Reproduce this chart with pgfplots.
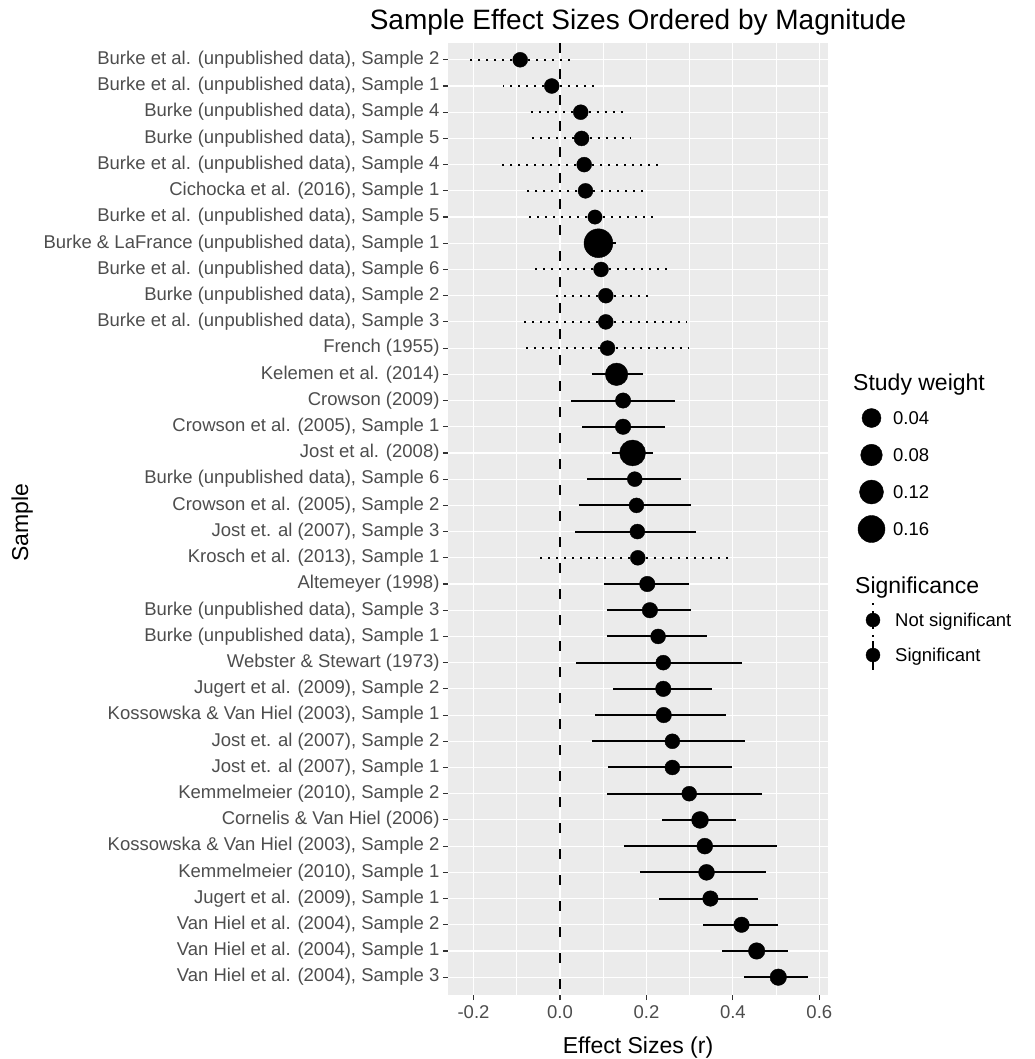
\documentclass[border=0pt]{standalone}
\usepackage{pgfplots}
\pgfplotsset{compat=1.18}
\usepackage{pgfplotstable}
\usepackage{fontspec}
\setmainfont{Liberation Sans}

\definecolor{panelgrey}{HTML}{EBEBEB}
\definecolor{grey30}{HTML}{4D4D4D}
\definecolor{grey20}{HTML}{333333}

% row = position from the top, est = effect size, lo/hi = interval, rad = point radius (bp)
\pgfplotstableread{
row est lo hi rad
8 0.089 0.058 0.129 14.5
13 0.131 0.073 0.193 11.3
14 0.146 0.025 0.266 7.7
15 0.146 0.050 0.243 7.8
16 0.168 0.121 0.216 13.0
17 0.173 0.063 0.279 7.5
18 0.177 0.045 0.302 7.5
19 0.179 0.035 0.314 7.5
21 0.202 0.103 0.299 7.8
22 0.208 0.109 0.304 7.8
23 0.227 0.108 0.339 7.5
24 0.239 0.038 0.420 7.5
25 0.239 0.122 0.351 7.8
26 0.240 0.081 0.385 7.8
27 0.260 0.075 0.428 7.5
28 0.260 0.110 0.397 7.5
29 0.299 0.108 0.468 7.5
30 0.324 0.235 0.407 8.5
31 0.335 0.148 0.501 8.0
32 0.339 0.185 0.476 8.0
33 0.348 0.229 0.459 7.8
34 0.420 0.330 0.505 7.8
35 0.455 0.374 0.528 8.3
36 0.505 0.425 0.574 8.3
}\sigtab

\pgfplotstableread{
row est lo hi rad
1 -0.092 -0.220 0.035 7.5
2 -0.019 -0.131 0.085 7.5
3 0.048 -0.068 0.150 7.5
4 0.050 -0.077 0.163 7.5
5 0.056 -0.143 0.239 7.5
6 0.059 -0.083 0.194 7.5
7 0.081 -0.076 0.222 7.2
9 0.095 -0.068 0.253 7.5
10 0.106 -0.015 0.216 7.5
11 0.106 -0.089 0.293 7.5
12 0.110 -0.089 0.297 7.5
20 0.180 -0.055 0.393 7.5
}\nstab

% distances from the estimate to the interval ends
\pgfplotstablecreatecol[create col/expr={\thisrow{hi}-\thisrow{est}}]{ep}\sigtab
\pgfplotstablecreatecol[create col/expr={\thisrow{est}-\thisrow{lo}}]{em}\sigtab
\pgfplotstablecreatecol[create col/expr={\thisrow{hi}-\thisrow{est}}]{ep}\nstab
\pgfplotstablecreatecol[create col/expr={\thisrow{est}-\thisrow{lo}}]{em}\nstab

\pgfplotsset{
  forest/.style={
    scatter, only marks, mark=*,
    scatter/use mapped color={draw=black, fill=black},
    visualization depends on={\thisrow{rad} \as \perpointmarksize},
    scatter/@pre marker code/.append style={/tikz/mark size=\perpointmarksize},
  },
}

\newcommand{\ticksize}{\fontsize{18.5bp}{22bp}\selectfont}
\newcommand{\titlesize}{\fontsize{23bp}{26bp}\selectfont}

\begin{document}
\begin{tikzpicture}
\path[use as bounding box] (0,0) rectangle (1035bp,1059bp);

\begin{axis}[
  at={(448bp,64bp)}, anchor=south west,
  scale only axis, width=380bp, height=952bp,
  xmin=-0.259, xmax=0.620,
  ymin=0.36, ymax=36.68, y dir=reverse,
  clip=false,
  axis background/.style={fill=panelgrey},
  axis line style={draw=none},
  tick align=outside, xtick pos=bottom, ytick pos=left,
  major tick length=5bp, minor tick length=0pt,
  tick style={grey20, line width=1.1bp},
  xtick={-0.2,0,0.2,0.4,0.6},
  xticklabels={-0.2,0.0,0.2,0.4,0.6},
  minor xtick={-0.1,0.1,0.3,0.5},
  ytick={1,...,36},
  yticklabels={
    {Burke et al. (unpublished data), Sample 2},
    {Burke et al. (unpublished data), Sample 1},
    {Burke (unpublished data), Sample 4},
    {Burke (unpublished data), Sample 5},
    {Burke et al. (unpublished data), Sample 4},
    {Cichocka et al. (2016), Sample 1},
    {Burke et al. (unpublished data), Sample 5},
    {Burke \& LaFrance (unpublished data), Sample 1},
    {Burke et al. (unpublished data), Sample 6},
    {Burke (unpublished data), Sample 2},
    {Burke et al. (unpublished data), Sample 3},
    {French (1955)},
    {Kelemen et al. (2014)},
    {Crowson (2009)},
    {Crowson et al. (2005), Sample 1},
    {Jost et al. (2008)},
    {Burke (unpublished data), Sample 6},
    {Crowson et al. (2005), Sample 2},
    {Jost et. al (2007), Sample 3},
    {Krosch et al. (2013), Sample 1},
    {Altemeyer (1998)},
    {Burke (unpublished data), Sample 3},
    {Burke (unpublished data), Sample 1},
    {Webster \& Stewart (1973)},
    {Jugert et al. (2009), Sample 2},
    {Kossowska \& Van Hiel (2003), Sample 1},
    {Jost et. al (2007), Sample 2},
    {Jost et. al (2007), Sample 1},
    {Kemmelmeier (2010), Sample 2},
    {Cornelis \& Van Hiel (2006)},
    {Kossowska \& Van Hiel (2003), Sample 2},
    {Kemmelmeier (2010), Sample 1},
    {Jugert et al. (2009), Sample 1},
    {Van Hiel et al. (2004), Sample 2},
    {Van Hiel et al. (2004), Sample 1},
    {Van Hiel et al. (2004), Sample 3},
  },
  xticklabel style={font=\ticksize, text=grey30, yshift=-2bp},
  yticklabel style={font=\ticksize, text=grey30},
  xmajorgrids, xminorgrids, ymajorgrids,
  major grid style={white, line width=1.1bp},
  minor grid style={white, line width=0.55bp},
]
\addplot[black, line width=1.8bp, dash pattern=on 10bp off 16bp]
  coordinates {(0,0.36) (0,36.68)};

\addplot[forest,
  error bars/.cd, x dir=both, x explicit, error mark=none,
  error bar style={black, line width=2bp, dash pattern=on 2bp off 6bp}]
  table[x=est, y=row, x error plus=ep, x error minus=em] {\nstab};

\addplot[forest,
  error bars/.cd, x dir=both, x explicit, error mark=none,
  error bar style={black, line width=2bp}]
  table[x=est, y=row, x error plus=ep, x error minus=em] {\sigtab};
\end{axis}

% overlay in pixel units for titles and legends
\begin{axis}[
  at={(0,0)}, anchor=south west,
  scale only axis, width=1035bp, height=1059bp,
  xmin=0, xmax=1035, ymin=0, ymax=1059, y dir=reverse,
  hide axis, clip=false,
]
\node[font=\fontsize{28bp}{30bp}\selectfont, anchor=base] at (axis cs:638,30) {Sample Effect Sizes Ordered by Magnitude};
\node[font=\titlesize, anchor=base] at (axis cs:638,1053) {Effect Sizes (r)};
\node[font=\titlesize, anchor=base, rotate=90] at (axis cs:28,523) {Sample};

\node[font=\titlesize, anchor=base west, inner sep=0pt] at (axis cs:853,390) {Study weight};
\addplot[only marks, mark=*, mark size=9.5bp, black] coordinates {(871.5,418)};
\addplot[only marks, mark=*, mark size=10.8bp, black] coordinates {(871.5,455)};
\addplot[only marks, mark=*, mark size=12bp, black] coordinates {(871.5,492)};
\addplot[only marks, mark=*, mark size=13.5bp, black] coordinates {(871.5,529)};
\node[font=\ticksize, anchor=base west, inner sep=0pt] at (axis cs:893,424.6) {0.04};
\node[font=\ticksize, anchor=base west, inner sep=0pt] at (axis cs:893,461.6) {0.08};
\node[font=\ticksize, anchor=base west, inner sep=0pt] at (axis cs:893,498.6) {0.12};
\node[font=\ticksize, anchor=base west, inner sep=0pt] at (axis cs:893,535.6) {0.16};

\node[font=\titlesize, anchor=base west, inner sep=0pt] at (axis cs:855,593) {Significance};
\addplot[black, line width=2bp, dash pattern=on 2bp off 6bp] coordinates {(873,603) (873,637)};
\addplot[only marks, mark=*, mark size=7bp, black] coordinates {(873,620)};
\addplot[black, line width=2bp] coordinates {(873,641) (873,670)};
\addplot[only marks, mark=*, mark size=7bp, black] coordinates {(873,655)};
\node[font=\ticksize, anchor=base west, inner sep=0pt] at (axis cs:895,626.6) {Not significant};
\node[font=\ticksize, anchor=base west, inner sep=0pt] at (axis cs:895,661.6) {Significant};
\end{axis}
\end{tikzpicture}
\end{document}
